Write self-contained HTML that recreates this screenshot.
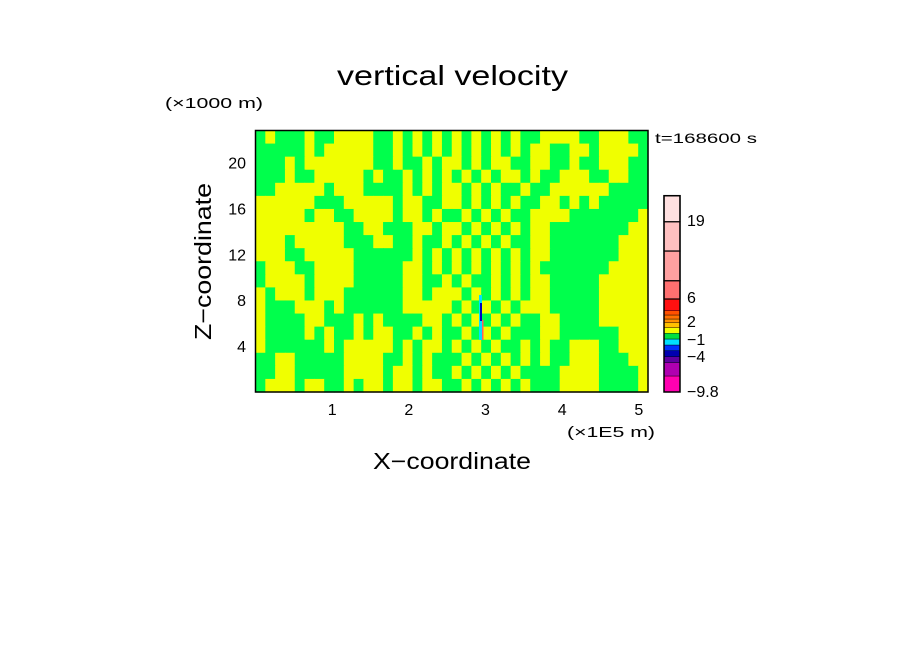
<!DOCTYPE html>
<html><head><meta charset="utf-8"><style>
html,body{margin:0;padding:0;background:#fff;}
svg{display:block;font-family:"Liberation Sans",sans-serif;}
</style></head><body>
<svg id="chart" width="904" height="654" viewBox="0 0 904 654">
<text x="337" y="85" font-size="28" textLength="231" lengthAdjust="spacingAndGlyphs">vertical velocity</text>
<text x="165" y="108" font-size="15" textLength="98" lengthAdjust="spacingAndGlyphs">(×1000 m)</text>
<g id="field"></g>
<rect x="255.5" y="130.5" width="392.5" height="261.5" fill="none" stroke="#000" stroke-width="1.5"/>
<g id="axes"></g>
<text x="655" y="143" font-size="14" textLength="102" lengthAdjust="spacingAndGlyphs">t=168600 s</text>
<text x="567" y="437" font-size="15" textLength="88" lengthAdjust="spacingAndGlyphs">(×1E5 m)</text>
<text x="373" y="469" font-size="23" textLength="158" lengthAdjust="spacingAndGlyphs">X−coordinate</text>
<text transform="translate(211,340) rotate(-90)" font-size="23" textLength="157" lengthAdjust="spacingAndGlyphs">Z−coordinate</text>
<g id="cbar"></g>
</svg>
<script>
const rows = [
"GYGGGYGGYYYYGGYGYGYGYGYGYGYGGYYYYGGYYYGG",
"GGGGGYGYYYYYGGYGYGYGYGYGYGYGYYGGYYGYYYYG",
"GGGYGYYYYYYYGGYGGYGYYGYGYYGGYYGGYGGYYYGG",
"GGGYGGYYYYYGYGGYGYGYGYGYGYYGYGGYYYGGYYGG",
"GGYYYYYGYYYGGGGYGYGYYGYGYGGYGGYYYYYYGGGG",
"YYYYYYGGGYYYYYGYYGGYYGYGYGYGGYYGYGYGGGGG",
"YYYYYGYYGGYYYYGYYGYGGYGYGYGGYYYYGGGGGGGY",
"YYYYYYYYYGGYYGGGYYGYYGYGYGYGYYGGGGGGGGYY",
"YYYGYYYYYGGGYYGGYGGYGYGYGYGGYYGGGGGGGYYY",
"YYYGGYYYYYGGGGGGYGYGYGYGYGYGYYGGGGGGGYYY",
"GYYYGGYYYYGGGGGYYGYGYGYGYGYGYGGGGGGGYYYY",
"GYYYYGYYYYGGGGGYYGGYGYGGYGYGYYGGGGGYYYYY",
"YGYYYGYYYGGGGGGYYGYYYGYGYGYGYYGGGGGYYYYY",
"YGGGYYYGYGGGGGGYYYYYGYGYGYGYYYGGGGGYYYYY",
"YGGGGYYGGGYGYGGGGYYGYGYGYGYGGYYGGGGYYYYY",
"YGGGGYGYGGYGYYGGYGYGGYGYGYGGGYYGGGGGGYYY",
"YGGGGGGYGYYYYYGYGYYGYGYGYGGYGYGGYYYGGYYY",
"GGYYGGGGGYYYYGGYGYGGGYGYGYGYGYGGYYYGGGYY",
"GGYYGGGGGYYYYGYYGYGGYGYGYGYGGGGYYYYGGGGY",
"GYYYGYYGGYGYYGYYGYYGGYGYGYGYGGGYYYYGGGGY"
];
const xTicks = [1,2,3,4,5];
const yTicks = [4,8,12,16,20];
const cbColors = ["#ff00b0","#b000b0","#6000a0","#0000b0","#0030ff","#00e0ff","#00e040","#f0ff00","#ffc000","#ff9000","#ff7000","#ff5000","#ff1010","#ff7070","#ffa0a0","#ffc0c0","#ffe0e0"];
const cbBounds = [392,376,362.7,356.7,350.7,345,339,333.3,327.7,322.7,319,315,310.7,299,280.7,251,221.7,195.7];
const cbLabels = ["19","6","2","−1","−4","−9.8"];
const cbLabelY = [226,303,327,345,362,397];

const NS="http://www.w3.org/2000/svg";
const X0=255.5,X1=648,Y0=130.5,Y1=392;
const xs=v=>X0+(v/5.12)*(X1-X0);
const ys=v=>Y1-(v/22.8)*(Y1-Y0);
const field=document.getElementById('field');
const nc=rows[0].length,nr=rows.length;
const cw=(X1-X0)/nc,ch=(Y1-Y0)/nr;
rows.forEach((r,i)=>{for(let j=0;j<nc;j++){
 const el=document.createElementNS(NS,'rect');
 
 
 el.setAttribute('x',X0+j*cw);el.setAttribute('y',Y0+i*ch);
 el.setAttribute('width',cw+0.6);el.setAttribute('height',ch+0.6);
 el.setAttribute('fill',r[j]==='G'?'#00ff4c':'#f0ff00');
 field.appendChild(el);}});
[["#00e0ff",479,295,3,45],["#0000c0",480,303,2,18],["#ff6060",482,320,1.5,20]].forEach(s=>{
 const el=document.createElementNS(NS,'rect');
 
 
 el.setAttribute('x',s[1]);el.setAttribute('y',s[2]);el.setAttribute('width',s[3]);el.setAttribute('height',s[4]);el.setAttribute('fill',s[0]);
 field.appendChild(el);});
const axes=document.getElementById('axes');
xTicks.forEach(v=>{const t=document.createElementNS(NS,'text');
 
 
 t.setAttribute('x',xs(v));t.setAttribute('y',415);t.setAttribute('font-size','16');t.setAttribute('text-anchor','middle');t.textContent=v;axes.appendChild(t);});
yTicks.forEach(v=>{const t=document.createElementNS(NS,'text');
 
 
 t.setAttribute('x',246);t.setAttribute('y',ys(v)+6);t.setAttribute('font-size','16');t.setAttribute('text-anchor','end');t.textContent=v;axes.appendChild(t);});
const cb=document.getElementById('cbar');
cbColors.forEach((c,i)=>{const r=document.createElementNS(NS,'rect');
 
 
 r.setAttribute('x',664);r.setAttribute('y',cbBounds[i+1]);r.setAttribute('width',16);r.setAttribute('height',cbBounds[i]-cbBounds[i+1]);
 r.setAttribute('fill',c);r.setAttribute('stroke','#000');r.setAttribute('stroke-width',i>=13?1.2:0.4);cb.appendChild(r);});
const fr=document.createElementNS(NS,'rect');


fr.setAttribute('x',664);fr.setAttribute('y',195.7);fr.setAttribute('width',16);fr.setAttribute('height',196.3);fr.setAttribute('fill','none');fr.setAttribute('stroke','#000');fr.setAttribute('stroke-width','1.5');cb.appendChild(fr);
cbLabels.forEach((l,i)=>{const t=document.createElementNS(NS,'text');
 
 
 t.setAttribute('x',687);t.setAttribute('y',cbLabelY[i]);t.setAttribute('font-size','16');t.textContent=l;cb.appendChild(t);});
</script>
</body></html>
